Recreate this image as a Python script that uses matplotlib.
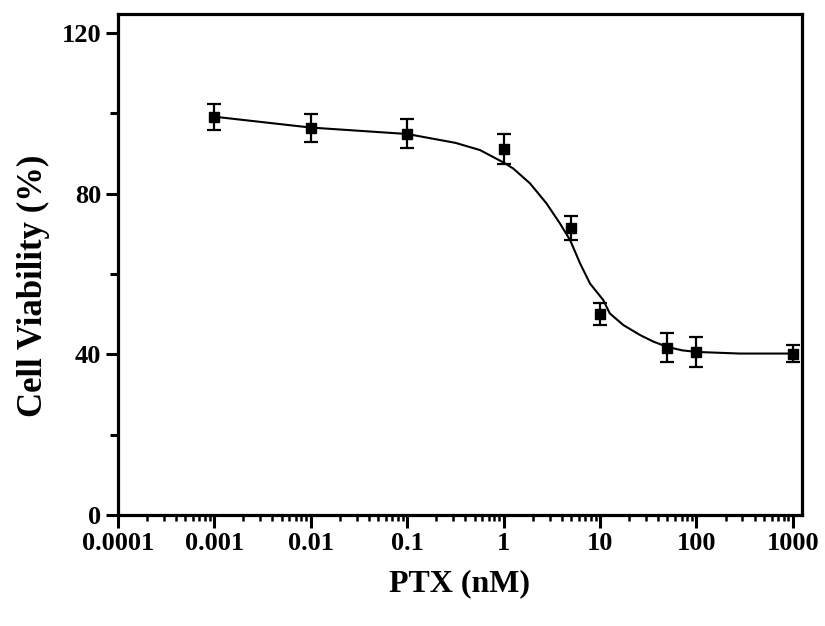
import matplotlib
matplotlib.use("Agg")
import matplotlib.pyplot as plt
from matplotlib.ticker import LogLocator, FixedLocator, FixedFormatter, NullFormatter

# Data points (PTX concentration in nM, viability %, error)
conc = [0.001, 0.01, 0.1, 1, 5, 10, 50, 100, 1000]
viability = [99.0, 96.3, 94.9, 91.0, 71.5, 50.0, 41.7, 40.5, 40.2]
err = [3.2, 3.5, 3.7, 3.7, 3.0, 2.7, 3.5, 3.7, 2.2]

# Fitted curve
fit_x = [0.001, 0.01, 0.1, 0.316, 0.569, 1.0, 1.26, 1.88, 2.29, 2.79, 3.85,
         4.89, 6.21, 7.87, 10.8, 12.6, 17.4, 26.0, 35.5, 49.0, 70.8, 100, 282, 1000]
fit_y = [99.1, 96.4, 94.8, 92.6, 90.8, 87.7, 86.2, 82.5, 80.0, 77.5, 72.5,
         68.4, 62.6, 57.6, 53.5, 50.2, 47.3, 44.8, 43.2, 41.9, 41.0, 40.6, 40.2, 40.2]

xticks = [0.0001, 0.001, 0.01, 0.1, 1, 10, 100, 1000]
xtick_labels = ["0.0001", "0.001", "0.01", "0.1", "1", "10", "100", "1000"]
yticks = [0, 40, 80, 120]
yminor = [20, 60, 100]

plt.rcParams['font.family'] = ['Liberation Serif', 'DejaVu Serif']
plt.rcParams['font.weight'] = 'bold'

fig = plt.figure(figsize=(8.25, 6.26), dpi=100)
ax = fig.add_axes([0.143, 0.177, 0.829, 0.801])

ax.plot(fit_x, fit_y, color='black', lw=1.5, zorder=2, solid_joinstyle='round')
ax.errorbar(conc, viability, yerr=err, fmt='s', color='black', ms=7,
            ecolor='black', elinewidth=1.6, capsize=5, capthick=1.6, zorder=3)

ax.set_xscale('log')
ax.set_xlim(1e-4, 1240)
ax.set_ylim(0, 124.7)

ax.xaxis.set_major_locator(FixedLocator(xticks))
ax.xaxis.set_major_formatter(FixedFormatter(xtick_labels))
ax.xaxis.set_minor_locator(LogLocator(base=10, subs=range(2, 10), numticks=20))
ax.xaxis.set_minor_formatter(NullFormatter())
ax.yaxis.set_major_locator(FixedLocator(yticks))
ax.yaxis.set_minor_locator(FixedLocator(yminor))

for s in ax.spines.values():
    s.set_linewidth(2.3)

ax.tick_params(axis='both', which='major', direction='out', length=9, width=2.2,
               labelsize=19, pad=3)
ax.tick_params(axis='y', which='minor', direction='out', length=6, width=2.2)
ax.tick_params(axis='x', which='minor', direction='out', length=4, width=1.8)
ax.tick_params(top=False, right=False, which='both')

for lab in ax.get_xticklabels() + ax.get_yticklabels():
    lab.set_fontweight('bold')

ax.set_xlabel('PTX (nM)', fontsize=23, fontweight='bold', labelpad=10)
ax.set_ylabel('Cell Viability (%)', fontsize=25, fontweight='bold')
ax.yaxis.set_label_coords(-0.100, 0.457)

fig.savefig('out.png', dpi=100)
